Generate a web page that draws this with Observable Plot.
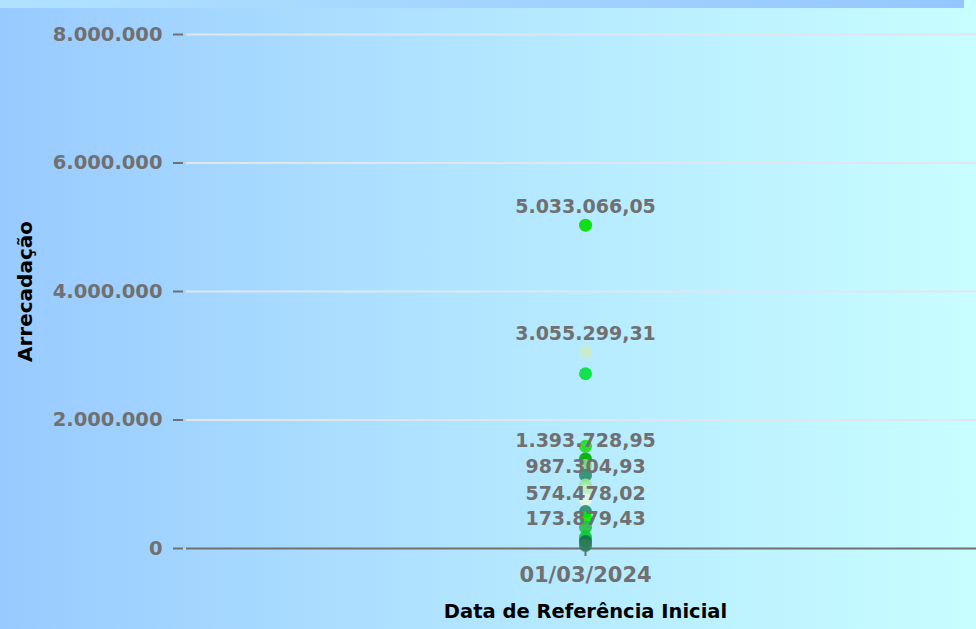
<!DOCTYPE html>
<html><head><meta charset="utf-8">
<script src="https://cdn.jsdelivr.net/npm/d3@7"></script>
<script src="https://cdn.jsdelivr.net/npm/@observablehq/plot@0.6"></script>
<style>
body{margin:0;}
#wrap{position:relative;width:976px;height:629px;background:linear-gradient(to right,#99caff 0%,#b2e6ff 50%,#c8feff 100%);overflow:hidden;}
#strip{position:absolute;left:0;top:0;width:964px;height:8px;background:linear-gradient(to right,#b0e2ff,#96c6ff);}
#wrap svg{position:absolute;left:0;top:0;}
</style></head><body><div id="wrap"><div id="strip"></div></div>
<script>
const dates = ["01/03/2024"];
const values = [5033066.05, 3055299.31, 2720000, 1590000, 1393728.95, 1290000, 1140000, 987304.93, 900000, 760000, 574478.02, 480000, 330000, 173879.43, 110000, 50000];
const colors = ["#00dd00", "#cbeccb", "#00e23a", "#1ede1e", "#00aa00", "#7fdc7f", "#2e8b6e", "#9be69b", "#c0f0c0", "#e4f7e4", "#2e8b6e", "#00ee00", "#20c040", "#00cc33", "#1a6e4a", "#2e7d5a"];
const labeledValues = [5033066.05, 3055299.31, 1393728.95, 987304.93, 574478.02, 173879.43];
const yTicks = [0, 2000000, 4000000, 6000000, 8000000];
const xTitle = "Data de Referência Inicial";
const yTitle = "Arrecadação";

const br = d3.formatLocale({decimal: ",", thousands: ".", grouping: [3], currency: ["R$", ""]});
const fmtTick = br.format(",.0f");
const fmtVal = br.format(",.2f");

const points = values.map((v, i) => ({date: dates[0], value: v, color: colors[i]}));
const labels = labeledValues.map(v => ({date: dates[0], value: v}));

const chart = Plot.plot({
  width: 976,
  height: 629,
  marginLeft: 186,
  marginRight: 0,
  marginTop: 34,
  marginBottom: 81,
  style: {background: "transparent", fontFamily: "DejaVu Sans", fontWeight: "bold", overflow: "visible"},
  x: {type: "point", domain: dates, range: [194, 976]},
  y: {domain: [0, 8000000]},
  marks: [
    Plot.ruleY(yTicks.filter(d => d > 0), {stroke: "#e0e6ee", strokeWidth: 2}),
    Plot.ruleY([0], {stroke: "#707070", strokeWidth: 2}),
    Plot.axisY({ticks: yTicks, tickFormat: fmtTick, tickSize: 10, tickPadding: 11, dx: -3, color: "#707070", strokeWidth: 2, fontSize: 19.5, label: null}),
    Plot.axisX({ticks: dates, tickSize: 8, tickPadding: 11, color: "#707070", strokeWidth: 2, fontSize: 21, letterSpacing: 0.5, label: null}),
    Plot.dot(points, {x: "date", y: "value", fill: "color", r: 6.5, fillOpacity: 0.9}),
    Plot.text(labels, {x: "date", y: "value", text: d => fmtVal(d.value), dy: -18, fill: "#707070", fontSize: 19, fontWeight: "bold"}),
    Plot.text([yTitle], {frameAnchor: "left", textAnchor: "middle", lineAnchor: "middle", rotate: -90, dx: -161, fill: "#000", fontSize: 20, fontWeight: "bold"}),
    Plot.text([xTitle], {x: () => dates[0], frameAnchor: "bottom", lineAnchor: "middle", dy: 63, fill: "#000", fontSize: 19.5, fontWeight: "bold"})
  ]
});
document.getElementById("wrap").appendChild(chart);
</script>
</body></html>
